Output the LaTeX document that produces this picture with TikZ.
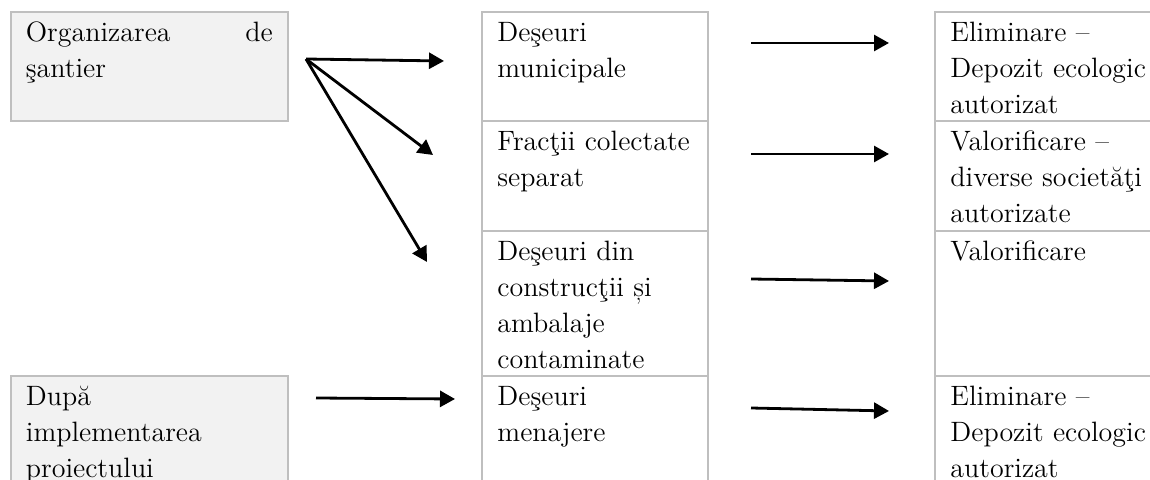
\documentclass[tikz,border=0pt]{standalone}
\usepackage{fontspec}
\usetikzlibrary{positioning,arrows.meta}

\definecolor{cellgray}{HTML}{BFBFBF}
\definecolor{cellfill}{HTML}{F2F2F2}

\tikzset{
  cell/.style={draw=cellgray, line width=1pt, inner sep=0pt, outer sep=0pt,
    minimum width=113pt},
  celltext/.style={anchor=north west, text width=#1, align=left,
    inner xsep=7.5pt, inner ysep=1.9pt, font=\fontsize{14}{18}\selectfont,
    execute at begin node=\strut},
  celltext/.default=104pt,
  flow/.style={line width=1.4pt, -{Triangle[length=7.5pt,width=8pt]}}
}

\begin{document}
\begin{tikzpicture}[x=0.5pt, y=-0.5pt]
\useasboundingbox (0,0) rectangle (1150,480);

% where the waste comes from
\node[cell, fill=cellfill, anchor=north west, minimum width=138.75pt, minimum height=54.5pt,
  label={[celltext=123.5pt]north west:{Organizarea\hfill de\\şantier}}] (org) at (10.5,12) {};
\node[cell, fill=cellfill, anchor=north west, minimum width=138.75pt, minimum height=62pt,
  label={[celltext=123.5pt]north west:{După\\implementarea\\proiectului}}] (dupa) at (10.5,376) {};

% kinds of waste
\node[cell, anchor=north west, minimum height=54.5pt,
  label={[celltext]north west:{Deşeuri\\municipale}}] (mun) at (482,12) {};
\node[cell, below=0pt of mun, minimum height=55pt,
  label={[celltext]north west:{Fracţii colectate\\separat}}] (frac) {};
\node[cell, below=0pt of frac, minimum height=72.5pt,
  label={[celltext]north west:{Deşeuri din\\construcţii și\\ambalaje\\contaminate}}] (cons) {};
\node[cell, below=0pt of cons, minimum height=62pt,
  label={[celltext]north west:{Deşeuri\\menajere}}] (men) {};

% what happens to it
\node[cell, anchor=north west, minimum width=115pt, minimum height=54.5pt,
  label={[celltext]north west:{Eliminare --\\Depozit ecologic\\autorizat}}] (elim) at (935,12) {};
\node[cell, below=0pt of elim, minimum width=115pt, minimum height=55pt,
  label={[celltext]north west:{Valorificare --\\diverse societăţi\\autorizate}}] (valsoc) {};
\node[cell, below=0pt of valsoc, minimum width=115pt, minimum height=72.5pt,
  label={[celltext]north west:{Valorificare}}] (val) {};
\node[cell, below=0pt of val, minimum width=115pt, minimum height=62pt,
  label={[celltext]north west:{Eliminare --\\Depozit ecologic\\autorizat}}] (elimmen) {};

% arrow ends
\coordinate (fork) at (306,59);
\coordinate (to-mun) at (444,61);
\coordinate (to-frac) at (433,155);
\coordinate (to-cons) at (427,262);
\coordinate (dupa-out) at (316,398);
\coordinate (to-men) at (455,399);
\coordinate (mun-out) at (751,43);
\coordinate (to-elim) at (889,43);
\coordinate (frac-out) at (751,154);
\coordinate (to-valsoc) at (889,154);
\coordinate (cons-out) at (751,279);
\coordinate (to-val) at (889,281);
\coordinate (men-out) at (751,408);
\coordinate (to-elimmen) at (889,411);

\path[flow]
  (fork) edge (to-mun)
  edge (to-frac)
  edge (to-cons)
  (dupa-out) edge (to-men)
  (mun-out) edge (to-elim)
  (frac-out) edge (to-valsoc)
  (cons-out) edge (to-val)
  (men-out) edge (to-elimmen);
\end{tikzpicture}
\end{document}
